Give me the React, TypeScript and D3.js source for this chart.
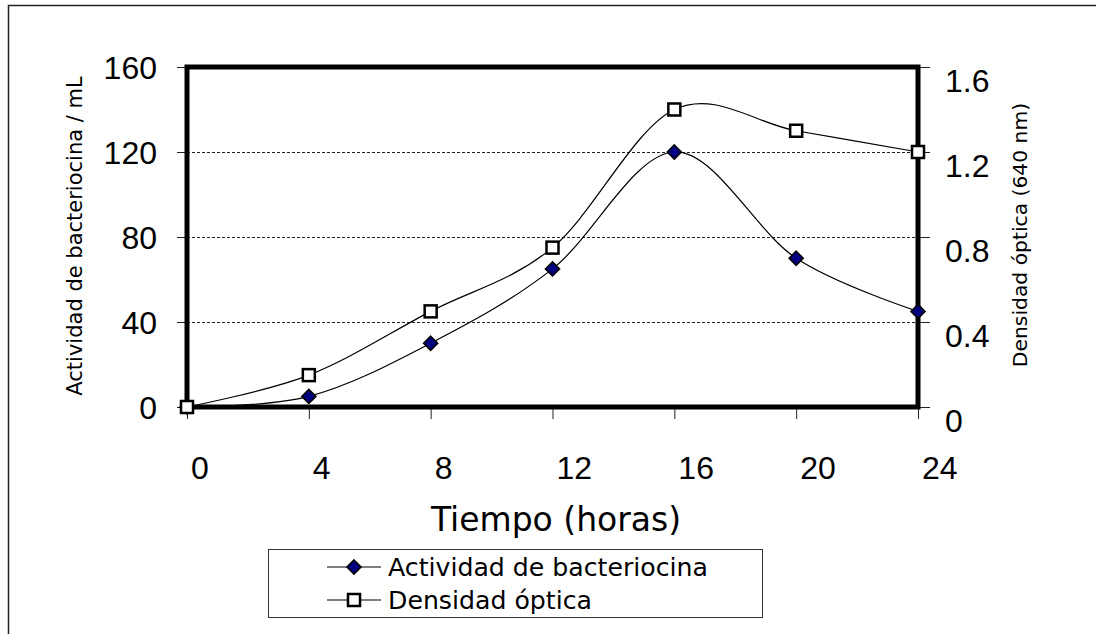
import React from "react";
import * as d3 from "d3";

// Time points (hours) and the two measured series
const hours = [0, 4, 8, 12, 16, 20, 24];
const actividad = [0, 5, 30, 65, 120, 70, 45];
const densidad = [0, 0.15, 0.45, 0.75, 1.4, 1.3, 1.2];

const xTicks = [0, 4, 8, 12, 16, 20, 24];
const leftTicks = [0, 40, 80, 120, 160];
const rightTicks = [0, 0.4, 0.8, 1.2, 1.6];
const gridValues = [40, 80, 120];

const W = 1096;
const H = 634;
const plot = { left: 187, right: 918, top: 67, bottom: 407 };

const NUM_FONT = "'Liberation Sans', Arial, sans-serif";
const TEXT_FONT = "'DejaVu Sans', sans-serif";

export default function App() {
  const x = d3.scaleLinear().domain([0, 24]).range([plot.left, plot.right]);
  const yL = d3.scaleLinear().domain([0, 160]).range([plot.bottom, plot.top]);
  const yR = d3.scaleLinear().domain([0, 1.6]).range([plot.bottom, plot.top]);

  const curve = d3.curveCardinal.tension(0);
  const lineAct = d3
    .line<number>()
    .x((_, i) => x(hours[i]))
    .y((d) => yL(d))
    .curve(curve);
  const lineDen = d3
    .line<number>()
    .x((_, i) => x(hours[i]))
    .y((d) => yR(d))
    .curve(curve);

  const diamond = (cx: number, cy: number, r = 7) =>
    `M${cx},${cy - r}L${cx + r},${cy}L${cx},${cy + r}L${cx - r},${cy}Z`;

  const Diamond = ({ cx, cy }: { cx: number; cy: number }) => (
    <path d={diamond(cx, cy)} fill="#000080" stroke="#000" strokeWidth={1.6} />
  );
  const Square = ({ cx, cy }: { cx: number; cy: number }) => (
    <rect x={cx - 6} y={cy - 6} width={12} height={12} fill="#fff" stroke="#000" strokeWidth={2.5} />
  );

  const legend = { x: 268, y: 549, w: 494, h: 68 };
  const legendRows = [
    { label: "Actividad de bacteriocina", kind: "diamond", cy: 567 },
    { label: "Densidad óptica", kind: "square", cy: 600 },
  ];

  return (
    <svg
      width={W}
      height={H}
      style={{ position: "absolute", left: 0, top: 0, background: "#fff" }}
    >
      {/* outer chart frame */}
      <rect x={8.5} y={5.5} width={1200} height={800} fill="none" stroke="#222" strokeWidth={1.5} />

      {/* horizontal gridlines */}
      {gridValues.map((v) => (
        <line
          key={v}
          x1={plot.left}
          x2={plot.right}
          y1={Math.round(yL(v)) + 0.5}
          y2={Math.round(yL(v)) + 0.5}
          stroke="#222"
          strokeWidth={1}
          strokeDasharray="3,2"
        />
      ))}

      {/* left axis ticks and labels */}
      {leftTicks.map((v) => (
        <g key={v}>
          <line x1={177} x2={plot.left} y1={yL(v) + 0.5} y2={yL(v) + 0.5} stroke="#222" strokeWidth={1} />
          <text x={157} y={yL(v) + 12} textAnchor="end" fontFamily={NUM_FONT} fontSize={32} fill="#000">
            {v}
          </text>
        </g>
      ))}

      {/* right axis ticks and labels */}
      {rightTicks.map((v) => (
        <g key={v}>
          <line x1={plot.right} x2={930} y1={yR(v) + 0.5} y2={yR(v) + 0.5} stroke="#222" strokeWidth={1} />
          <text x={945} y={yR(v) + 25} textAnchor="start" fontFamily={NUM_FONT} fontSize={32} fill="#000">
            {v === 0 ? "0" : v.toFixed(1)}
          </text>
        </g>
      ))}

      {/* x axis ticks and labels */}
      {xTicks.map((v) => (
        <g key={v}>
          <line x1={x(v) + 0.5} x2={x(v) + 0.5} y1={plot.bottom} y2={419} stroke="#222" strokeWidth={1} />
          <text x={x(v) + 4} y={479} textAnchor="start" fontFamily={NUM_FONT} fontSize={32} fill="#000">
            {v}
          </text>
        </g>
      ))}

      {/* plot area border */}
      <rect
        x={plot.left}
        y={plot.top}
        width={plot.right - plot.left}
        height={plot.bottom - plot.top}
        fill="none"
        stroke="#000"
        strokeWidth={5}
      />

      {/* series lines */}
      <path d={lineAct(actividad) ?? ""} fill="none" stroke="#000" strokeWidth={1.2} />
      <path d={lineDen(densidad) ?? ""} fill="none" stroke="#000" strokeWidth={1.2} />

      {/* series markers */}
      {actividad.map((v, i) => (
        <Diamond key={`a${i}`} cx={x(hours[i])} cy={yL(v)} />
      ))}
      {densidad.map((v, i) => (
        <Square key={`d${i}`} cx={x(hours[i])} cy={yR(v)} />
      ))}

      {/* axis titles */}
      <text x={556} y={531} textAnchor="middle" fontFamily={TEXT_FONT} fontSize={33} fill="#000">
        Tiempo (horas)
      </text>
      <text
        transform="translate(75,236) rotate(-90)"
        textAnchor="middle"
        dominantBaseline="central"
        fontFamily={TEXT_FONT}
        fontSize={21}
        fill="#000"
      >
        Actividad de bacteriocina / mL
      </text>
      <text
        transform="translate(1020,235) rotate(-90)"
        textAnchor="middle"
        dominantBaseline="central"
        fontFamily={TEXT_FONT}
        fontSize={20.3}
        fill="#000"
      >
        Densidad óptica (640 nm)
      </text>

      {/* legend */}
      <rect
        x={legend.x + 0.5}
        y={legend.y + 0.5}
        width={legend.w}
        height={legend.h}
        fill="#fff"
        stroke="#333"
        strokeWidth={1}
      />
      {legendRows.map((r) => (
        <g key={r.label}>
          <line x1={327} x2={381} y1={r.cy} y2={r.cy} stroke="#000" strokeWidth={1.2} />
          {r.kind === "diamond" ? <Diamond cx={354} cy={r.cy} /> : <Square cx={354} cy={r.cy} />}
          <text x={388} y={r.cy + 9} fontFamily={TEXT_FONT} fontSize={25.2} fill="#000">
            {r.label}
          </text>
        </g>
      ))}
    </svg>
  );
}
